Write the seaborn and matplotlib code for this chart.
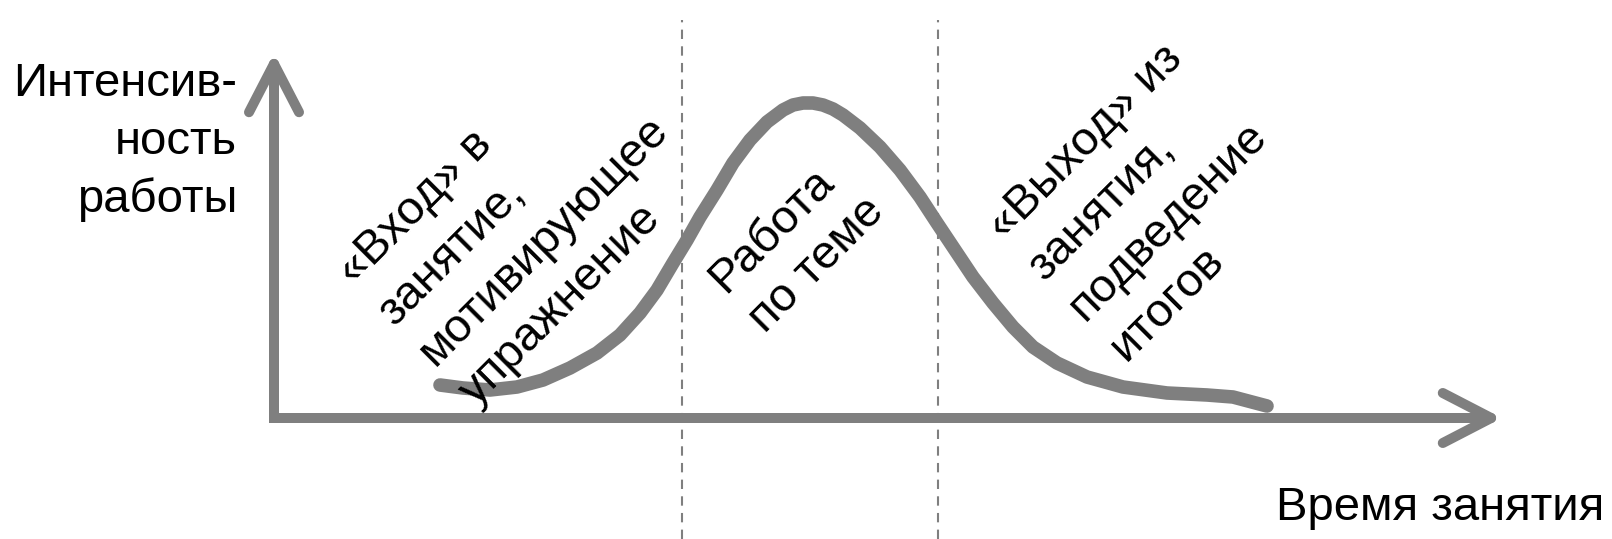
import numpy as np
import pandas as pd
import matplotlib
matplotlib.use('Agg')
import matplotlib.pyplot as plt
import seaborn as sns

# Lesson intensity curve (time / intensity in px from the axis origin)
time_points = [166, 189, 216, 243, 269, 296, 323, 346, 366, 383, 399, 413, 426,
               443, 459, 476, 493, 509, 519, 529, 539, 549, 559, 569, 586, 606,
               626, 646, 663, 679, 699, 719, 739, 759, 783, 813, 849, 893, 933,
               959, 993]
intensity = [33, 30, 28, 31, 38, 50, 65, 83, 105, 128, 155, 178, 201,
             228, 255, 278, 296, 308, 313, 315, 315, 313, 309, 303, 290, 271,
             248, 221, 195, 171, 141, 115, 91, 71, 55, 41, 31, 25, 23,
             21, 12]

# phase borders (dashed lines)
phase_borders = [408, 664]

# phase labels; position = start of the last line's baseline
phase_labels = ['«Вход» в\nзанятие,\nмотивирующее\nупражнение',
                'Работа\nпо теме',
                '«Выход» из\nзанятия,\nподведение\nитогов']
label_x = [192, 482, 842]
label_y = [20, 93, 65]

y_title = 'Интенсив-\nность\nработы'
x_title = 'Время занятия'

GRAY = '#7f7f7f'
FONT = 34
SPACING = 1.39


def draw_axes(ax, x_end=1228, y_end=365):
    """Axis lines with open chevron heads."""
    ax.plot([0, 0, x_end - 20], [y_end - 20, 0, 0], color=GRAY, lw=7.2,
            solid_joinstyle='miter', solid_capstyle='butt')
    arrow = dict(arrowstyle='->,head_length=2.9,head_width=1.5', lw=7.2,
                 color=GRAY, shrinkA=0, shrinkB=0, capstyle='round', joinstyle='round')
    ax.annotate('', xy=(x_end, 0), xytext=(x_end - 150, 0), arrowprops=arrow)
    ax.annotate('', xy=(0, y_end), xytext=(0, y_end - 150), arrowprops=arrow)


def main():
    sns.set_theme(style='white')
    plt.rcParams['font.family'] = ['Liberation Sans', 'DejaVu Sans']

    df = pd.DataFrame({'time': time_points, 'intensity': intensity})

    fig = plt.figure(figsize=(16.12, 5.39), dpi=100)
    ax = fig.add_axes([0, 0, 1, 1])
    ax.set_xlim(-274, 1338)
    ax.set_ylim(-121, 418)
    ax.set_axis_off()

    for x in phase_borders:
        ax.vlines(x, -121, 398, colors=GRAY, linewidth=1.5,
                  linestyles=(0, (4.5, 3.5)))

    draw_axes(ax)

    sns.lineplot(data=df, x='time', y='intensity', ax=ax, color=GRAY,
                 linewidth=9.8, sort=False, estimator=None,
                 solid_capstyle='round', solid_joinstyle='round')

    for text, x, y in zip(phase_labels, label_x, label_y):
        ax.text(x, y, text, rotation=45, rotation_mode='anchor',
                ha='left', va='baseline', multialignment='left',
                fontsize=FONT, linespacing=SPACING, color='black')

    ax.text(-37, 206, y_title, ha='right', va='baseline', multialignment='right',
            fontsize=FONT, linespacing=SPACING, color='black')
    ax.text(1330, -102, x_title, ha='right', va='baseline', fontsize=FONT,
            color='black')

    fig.savefig('out.png', dpi=100)


if __name__ == "__main__":
    main()
